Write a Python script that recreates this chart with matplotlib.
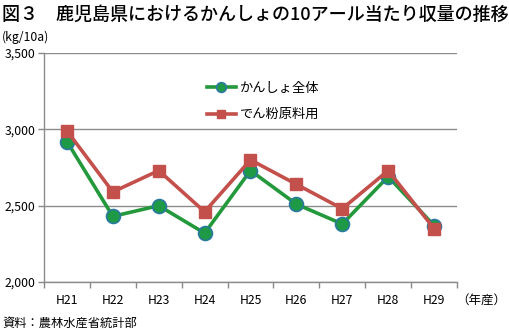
import matplotlib
matplotlib.use("Agg")
import matplotlib.pyplot as plt

plt.rcParams['font.family'] = ['Noto Sans CJK JP', 'DejaVu Sans']

years = ["H21", "H22", "H23", "H24", "H25", "H26", "H27", "H28", "H29"]
kansho_all = [2920, 2430, 2500, 2320, 2730, 2510, 2380, 2690, 2370]
denpun = [2990, 2590, 2730, 2460, 2800, 2640, 2480, 2730, 2350]
yticks = [2000, 2500, 3000, 3500]

fig = plt.figure(figsize=(5.1, 3.3), dpi=100)
ax = fig.add_axes([44/510, 1 - 282/330, (457 - 44)/510, (282 - 53)/330])

x = list(range(len(years)))
ax.plot(x, kansho_all, color="#23993c", lw=2.6, marker="o", ms=10,
        mfc="#1e9a46", mec="#2a7aa0", mew=1.2, label="かんしょ全体", zorder=3)
ax.plot(x, denpun, color="#c4504c", lw=2.6, marker="s", ms=9,
        mfc="#c4504c", mec="#c4504c", label="でん粉原料用", zorder=4)

ax.set_xlim(-0.5, len(years) - 0.5)
ax.set_ylim(2000, 3500)
ax.set_yticks(yticks)
ax.set_yticklabels([f"{v:,}" for v in yticks], fontsize=8.8)
ax.set_xticks(x)
ax.set_xticklabels(years, fontsize=8.8)
ax.set_xticks([i - 0.5 for i in range(len(years) + 1)], minor=True)
ax.tick_params(axis="x", which="major", length=0, pad=9)
ax.tick_params(axis="x", which="minor", length=4, color="#888888", width=1)
ax.tick_params(axis="y", length=4, color="#888888", width=1, pad=2)
ax.grid(axis="y", color="#8c8c8c", lw=1)
for s in ["top", "right"]:
    ax.spines[s].set_visible(False)
for s in ["left", "bottom"]:
    ax.spines[s].set_color("#8c8c8c")
    ax.spines[s].set_linewidth(1)

leg = ax.legend(loc="upper left", bbox_to_anchor=(0.365, 0.925), frameon=False,
                fontsize=9.5, handlelength=2.2, labelspacing=1.0,
                handletextpad=0.35, markerscale=0.7)

fig.text(2/510, 1 - 15/330, "図３　鹿児島県におけるかんしょの10アール当たり収量の推移",
         fontsize=13, va="center", ha="left", fontweight="medium")
fig.text(2/510, 1 - 37/330, "(kg/10a)", fontsize=8.8, va="center", ha="left")
fig.text(506/510, 1 - 300/330, "（年産）", fontsize=9, va="center", ha="right")
fig.text(2/510, 1 - 323/330, "資料：農林水産省統計部", fontsize=8.8, va="center", ha="left")

fig.savefig("out.png", dpi=100)
